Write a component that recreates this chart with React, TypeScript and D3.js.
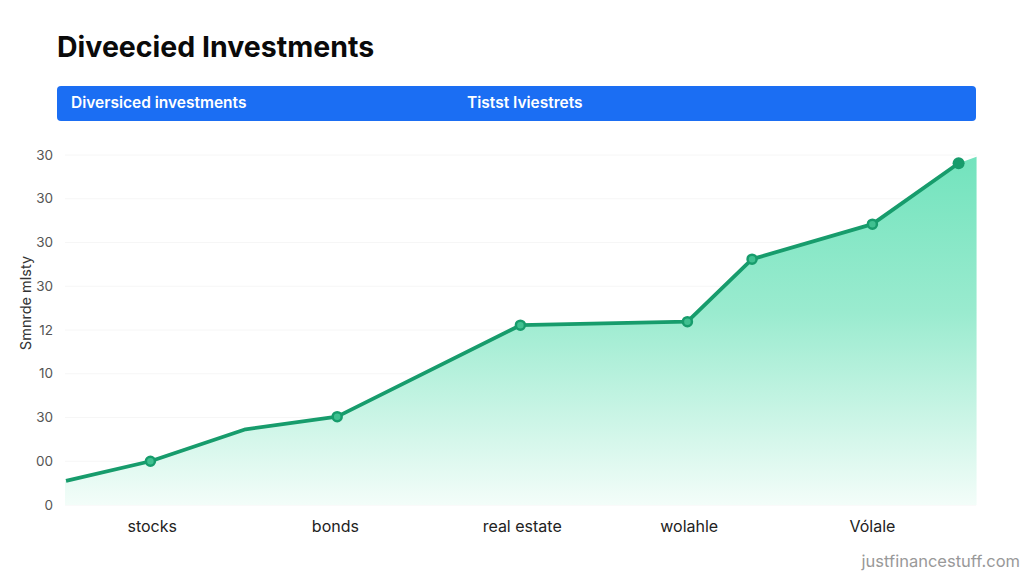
import React from "react";
import * as d3 from "d3";

const categories = ["stocks", "bonds", "real estate", "wolahle", "Vólale"];
const categoryPos = [-0.01, 1.01, 2.05, 2.98, 4.0];
const yTickLabels = ["0", "00", "30", "10", "12", "30", "30", "30", "30"];
// series points (x in category units, y in tick units)
const seriesX = [-0.49, -0.02, 0.51, 1.02, 2.04, 2.97, 3.33, 4.0, 4.48];
const seriesY = [0.55, 1.0, 1.73, 2.02, 4.11, 4.19, 5.62, 6.42, 7.81];
const markerKind = ["none", "ring", "none", "ring", "ring", "ring", "ring", "ring", "dot"];
// area continues a little beyond the last point
const areaEndX = 4.58;
const areaEndY = 7.96;

const title = "Diveecied Investments";
const bannerLeft = "Diversiced investments";
const bannerMid = "Tistst Iviestrets";
const yTitle = "Smnrde mlsty";
const watermark = "justfinancestuff.com";

const W = 1024;
const H = 576;
const FONT = "Inter, 'Open Sans', sans-serif";

export default function App() {
  const x = d3.scaleLinear().domain([0, 4]).range([154, 872.4]);
  const y = d3.scaleLinear().domain([0, 8]).range([505, 155]);

  const pts = seriesX.map((v, i) => [v, seriesY[i]] as [number, number]);
  const areaPts = [...pts, [areaEndX, areaEndY] as [number, number]];
  const x0 = x.invert(65);
  const slope = (seriesY[1] - seriesY[0]) / (seriesX[1] - seriesX[0]);
  const areaStart: [number, number] = [x0, seriesY[0] + slope * (x0 - seriesX[0])];
  const fullArea = [areaStart, ...areaPts];

  const line = d3.line<[number, number]>().x((d) => x(d[0])).y((d) => y(d[1]));
  const area = d3
    .area<[number, number]>()
    .x((d) => x(d[0]))
    .y0(y(0))
    .y1((d) => y(d[1]));

  const yTicks = d3.range(yTickLabels.length);

  return (
    <svg width={W} height={H} style={{ position: "absolute", left: 0, top: 0, background: "#fff" }}>
      <defs>
        <linearGradient id="ag" x1="0" x2="0" y1={y(8)} y2={y(0)} gradientUnits="userSpaceOnUse">
          <stop offset="0%" stopColor="#72e3bd" />
          <stop offset="45%" stopColor="#9aebcf" />
          <stop offset="100%" stopColor="#f3fdf9" />
        </linearGradient>
      </defs>
      <rect width={W} height={H} fill="#fff" />
      <text x={57} y={57} fontFamily={FONT} fontWeight={700} fontSize={28.5} fill="#0a0a0a">
        {title}
      </text>
      <rect x={57} y={86} width={919} height={35} rx={4} fill="#1b6ef3" />
      <text x={71} y={108} fontFamily={FONT} fontWeight={600} fontSize={15.5} fill="#fff">
        {bannerLeft}
      </text>
      <text x={467} y={108} fontFamily={FONT} fontWeight={600} fontSize={15.5} fill="#fff">
        {bannerMid}
      </text>

      {yTicks.map((t) => (
        <line key={"g" + t} x1={65} x2={976} y1={y(t)} y2={y(t)} stroke="#f6f6f6" strokeWidth={1} />
      ))}

      <path d={area(fullArea) || ""} fill="url(#ag)" />
      <path d={line(pts) || ""} fill="none" stroke="#179c6c" strokeWidth={3.8} strokeLinejoin="round" />
      {pts.map((p, i) =>
        markerKind[i] === "none" ? null : markerKind[i] === "dot" ? (
          <circle key={i} cx={x(p[0])} cy={y(p[1])} r={6} fill="#179c6c" />
        ) : (
          <circle key={i} cx={x(p[0])} cy={y(p[1])} r={4.5} fill="#3fc090" stroke="#179c6c" strokeWidth={2.5} />
        )
      )}

      {yTicks.map((t) => (
        <text key={t} x={53} y={y(t)} dy="0.35em" textAnchor="end" fontFamily={FONT} fontSize={13.5} fill="#555">
          {yTickLabels[t]}
        </text>
      ))}
      <text
        transform={`translate(31,303) rotate(-90)`}
        textAnchor="middle"
        fontFamily={FONT}
        fontSize={14.5}
        fill="#333"
      >
        {yTitle}
      </text>

      {categories.map((c, i) => (
        <text key={c} x={x(categoryPos[i])} y={532} textAnchor="middle" fontFamily={FONT} fontSize={16} fill="#222">
          {c}
        </text>
      ))}
      <text x={1020} y={567} textAnchor="end" fontFamily={FONT} fontSize={16.5} fill="#999">
        {watermark}
      </text>
    </svg>
  );
}
